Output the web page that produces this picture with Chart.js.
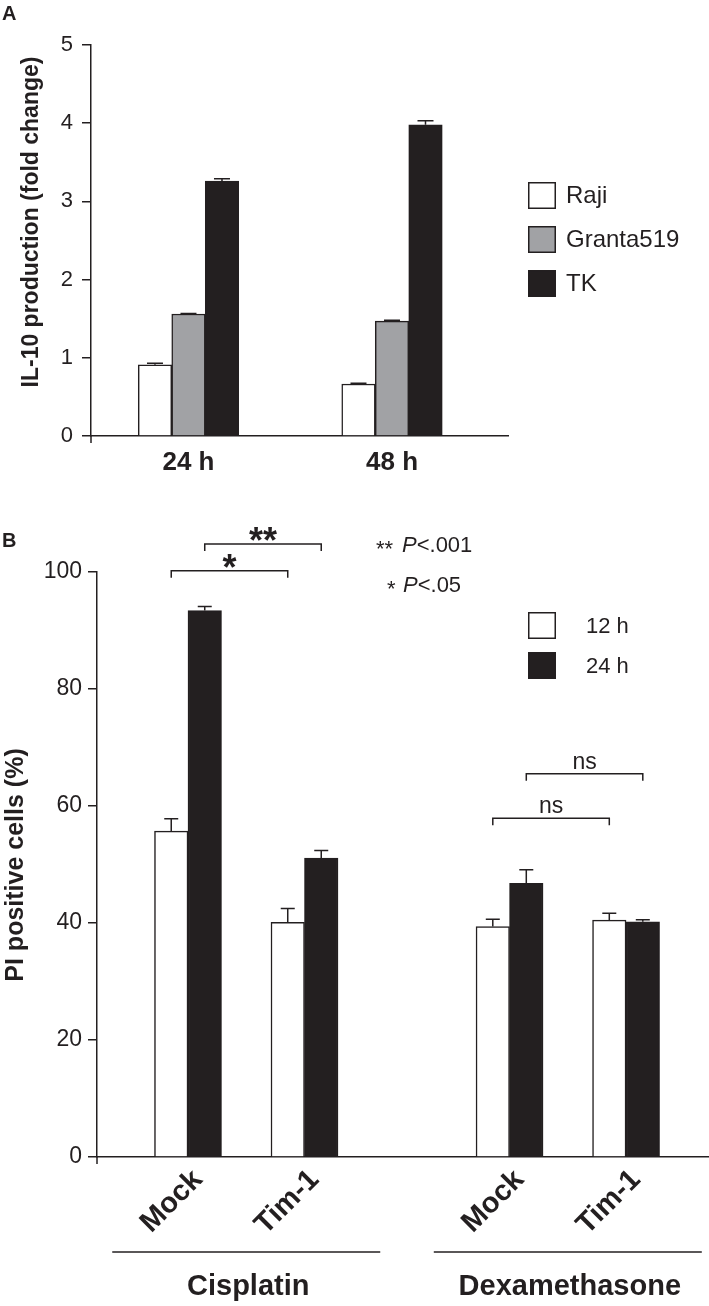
<!DOCTYPE html>
<html>
<head>
<meta charset="utf-8">
<script src="https://cdn.jsdelivr.net/npm/chart.js@4.4.0/dist/chart.umd.min.js"></script>
<style>
  html, body { margin: 0; padding: 0; background: #fff; }
  #wrap { position: relative; width: 709px; height: 1306px; }
  #chartA { position: absolute; left: 0; top: 0; }
  #chartB { position: absolute; left: 0; top: 490px; }
</style>
</head>
<body>
<div id="wrap">
  <canvas id="chartA" width="709" height="490"></canvas>
  <canvas id="chartB" width="709" height="816"></canvas>
</div>
<script>
const ink = '#231f20';
const family = "'Liberation Sans', Arial, Helvetica, sans-serif";
Chart.defaults.font.family = family;
Chart.defaults.color = ink;

// Panel A - IL-10 production
const timesA = ['24 h', '48 h'];
const linesA = ['Raji', 'Granta519', 'TK'];
const rajiA = [0.91, 0.665];
const rajiErrA = [0.02, 0.01];
const grantaA = [1.56, 1.47];
const grantaErrA = [0.005, 0.01];
const tkA = [3.26, 3.98];
const tkErrA = [0.03, 0.05];
const yTicksA = [0, 1, 2, 3, 4, 5];

// Panel B - PI positive cells
const cellsB = ['Mock', 'Tim-1', 'Mock', 'Tim-1'];
const drugsB = ['Cisplatin', 'Dexamethasone'];
const seriesB = ['12 h', '24 h'];
const h12B = [55.7, 40.1, 39.4, 40.5];
const h12ErrB = [2.1, 2.4, 1.25, 1.15];
const h24B = [93.4, 51.1, 46.8, 40.2];
const h24ErrB = [0.7, 1.3, 2.3, 0.35];
const yTicksB = [0, 20, 40, 60, 80, 100];
const sigLabels = ['*', '**', 'ns', 'ns'];

// layout only: where the groups sit on the x axis
const slotsA = [0, 1];
const slotsB = [0, 1, 2.76, 3.76];
const sigLayout = [
  { ds: 0, from: 0, to: 1, level: 100.2 },
  { ds: 1, from: 0, to: 1, level: 104.8 },
  { ds: 0, from: 2, to: 3, level: 57.9 },
  { ds: 1, from: 2, to: 3, level: 65.5 }
];

const pts = (slots, vals) => vals.map((v, i) => ({ x: slots[i], y: v }));

function bars(label, slots, vals, errs, color) {
  return {
    label, data: pts(slots, vals), errors: errs,
    backgroundColor: color, borderColor: ink, borderWidth: 1.5,
    borderSkipped: 'start', barThickness: 33.5
  };
}

function xAxis(slots, labels, min, max, font, rotation, pad, h, shift) {
  return {
    type: 'linear', min, max, offset: false,
    afterBuildTicks: s => { s.ticks = slots.map(v => ({ value: v })); },
    afterFit: s => { s.height = h; },
    grid: { display: false, drawTicks: false },
    border: { display: true, color: ink, width: 1.5 },
    ticks: {
      autoSkip: false, minRotation: rotation, maxRotation: rotation,
      padding: pad, font, color: ink, labelOffset: shift,
      callback: (v, i) => labels[i]
    }
  };
}

function yAxis(ticks, w, font, pad) {
  return {
    min: ticks[0], max: ticks[ticks.length - 1],
    afterBuildTicks: s => { s.ticks = ticks.map(v => ({ value: v })); },
    afterFit: s => { s.width = w; },
    grid: { drawOnChartArea: false, drawTicks: true, tickLength: 9, color: ink, lineWidth: 1.5 },
    border: { display: true, color: ink, width: 1.5 },
    ticks: { font, color: ink, padding: pad }
  };
}

const errorBars = {
  id: 'errorBars',
  afterDatasetsDraw(chart, args, opts) {
    const ctx = chart.ctx, y = chart.scales.y;
    ctx.save();
    ctx.strokeStyle = ink;
    ctx.lineWidth = 1.5;
    chart.data.datasets.forEach((ds, i) => {
      chart.getDatasetMeta(i).data.forEach((bar, j) => {
        const top = y.getPixelForValue(ds.data[j].y + ds.errors[j]);
        ctx.beginPath();
        ctx.moveTo(bar.x, bar.y);
        ctx.lineTo(bar.x, top);
        ctx.moveTo(bar.x - opts.cap / 2, top);
        ctx.lineTo(bar.x + opts.cap / 2, top);
        ctx.stroke();
      });
    });
    ctx.restore();
  }
};

const decor = {
  id: 'decor',
  afterDraw(chart, args, o) {
    const ctx = chart.ctx, area = chart.chartArea;
    ctx.save();
    ctx.fillStyle = ink;
    ctx.strokeStyle = ink;
    ctx.lineWidth = 1.5;

    // panel letter
    ctx.font = 'bold 20px ' + family;
    ctx.textBaseline = 'middle';
    ctx.textAlign = 'left';
    ctx.fillText(o.letter, 2, o.letterY);

    // little axis stub below the origin
    ctx.beginPath();
    ctx.moveTo(area.left, area.bottom);
    ctx.lineTo(area.left, area.bottom + 7);
    ctx.stroke();

    // y title
    ctx.save();
    ctx.translate(o.titleX, o.titleY);
    ctx.rotate(-Math.PI / 2);
    ctx.font = 'bold ' + o.titleSize + 'px ' + family;
    ctx.textAlign = 'center';
    ctx.textBaseline = 'middle';
    ctx.fillText(o.title, 0, 0);
    ctx.restore();

    // legend
    ctx.font = o.legendSize + 'px ' + family;
    ctx.textAlign = 'left';
    ctx.textBaseline = 'alphabetic';
    chart.data.datasets.forEach((ds, i) => {
      const by = o.legendY + i * o.legendGap;
      ctx.fillStyle = ds.backgroundColor;
      ctx.fillRect(o.legendX, by, 28, 27);
      ctx.strokeRect(o.legendX + 0.75, by + 0.75, 26.5, 25.5);
      ctx.fillStyle = ink;
      ctx.fillText(ds.label, o.legendTextX, by + o.legendBase);
    });

    if (o.extra) o.extra(chart, ctx);
    ctx.restore();
  }
};

new Chart(document.getElementById('chartA'), {
  type: 'bar',
  data: {
    datasets: [
      bars(linesA[0], slotsA, rajiA, rajiErrA, '#ffffff'),
      bars(linesA[1], slotsA, grantaA, grantaErrA, '#a1a2a5'),
      bars(linesA[2], slotsA, tkA, tkErrA, ink)
    ]
  },
  options: {
    responsive: false,
    animation: false,
    layout: { padding: { top: 45, right: 201, left: 0, bottom: 0 } },
    scales: {
      x: xAxis(slotsA, timesA, -0.479, 1.570, { size: 26, weight: 'bold' }, 0, 11, 54, 0),
      y: yAxis(yTicksA, 91, { size: 22 }, 9)
    },
    plugins: {
      legend: { display: false },
      tooltip: { enabled: false },
      errorBars: { cap: 16 },
      decor: {
        letter: 'A', letterY: 14,
        title: 'IL-10 production (fold change)', titleX: 32, titleY: 222, titleSize: 23,
        legendX: 528, legendY: 182, legendGap: 44, legendTextX: 566, legendBase: 21, legendSize: 24
      }
    }
  },
  plugins: [errorBars, decor]
});

new Chart(document.getElementById('chartB'), {
  type: 'bar',
  data: {
    datasets: [
      bars(seriesB[0], slotsB, h12B, h12ErrB, '#ffffff'),
      bars(seriesB[1], slotsB, h24B, h24ErrB, ink)
    ]
  },
  options: {
    responsive: false,
    animation: false,
    layout: { padding: { top: 82, right: 0, left: 0, bottom: 0 } },
    scales: {
      x: xAxis(slotsB, cellsB, -0.781, 4.472, { size: 29, weight: 'bold' }, 45, 6, 149, 10),
      y: yAxis(yTicksB, 97, { size: 23 }, 6)
    },
    plugins: {
      legend: { display: false },
      tooltip: { enabled: false },
      errorBars: { cap: 14 },
      decor: {
        letter: 'B', letterY: 51,
        title: 'PI positive cells (%)', titleX: 16, titleY: 375, titleSize: 25,
        legendX: 528, legendY: 122, legendGap: 40, legendTextX: 586, legendBase: 21, legendSize: 22,
        extra(chart, ctx) {
          const y = chart.scales.y, x = chart.scales.x;
          // significance brackets
          sigLayout.forEach((b, k) => {
            const meta = chart.getDatasetMeta(b.ds);
            const x1 = meta.data[b.from].x, x2 = meta.data[b.to].x;
            const yy = y.getPixelForValue(b.level);
            ctx.beginPath();
            ctx.moveTo(x1, yy + 7);
            ctx.lineTo(x1, yy);
            ctx.lineTo(x2, yy);
            ctx.lineTo(x2, yy + 7);
            ctx.stroke();
            const txt = sigLabels[k];
            ctx.textAlign = 'center';
            ctx.textBaseline = 'alphabetic';
            if (txt === 'ns') {
              ctx.font = '23px ' + family;
              ctx.fillText(txt, (x1 + x2) / 2, yy - 5);
            } else {
              ctx.font = 'bold 36px ' + family;
              ctx.fillText(txt, (x1 + x2) / 2, yy + 9);
            }
          });
          // p-value notes
          const note = (stars, sx, px, base, rest) => {
            ctx.textAlign = 'left';
            ctx.font = '22px ' + family;
            ctx.fillText(stars, sx, base + 4);
            ctx.font = 'italic 22px ' + family;
            ctx.fillText('P', px, base);
            const w = ctx.measureText('P').width;
            ctx.font = '22px ' + family;
            ctx.fillText(rest, px + w, base);
          };
          note('**', 376, 402, 62, '<.001');
          note('*', 387, 403, 102, '<.05');
          // treatment groups
          drugsB.forEach((d, g) => {
            const c = (x.getPixelForValue(slotsB[2 * g]) + x.getPixelForValue(slotsB[2 * g + 1])) / 2;
            ctx.beginPath();
            ctx.moveTo(c - 134, 762);
            ctx.lineTo(c + 134, 762);
            ctx.stroke();
            ctx.font = 'bold 29px ' + family;
            ctx.textAlign = 'center';
            ctx.fillText(d, c + 2, 805);
          });
        }
      }
    }
  },
  plugins: [errorBars, decor]
});
</script>
</body>
</html>
